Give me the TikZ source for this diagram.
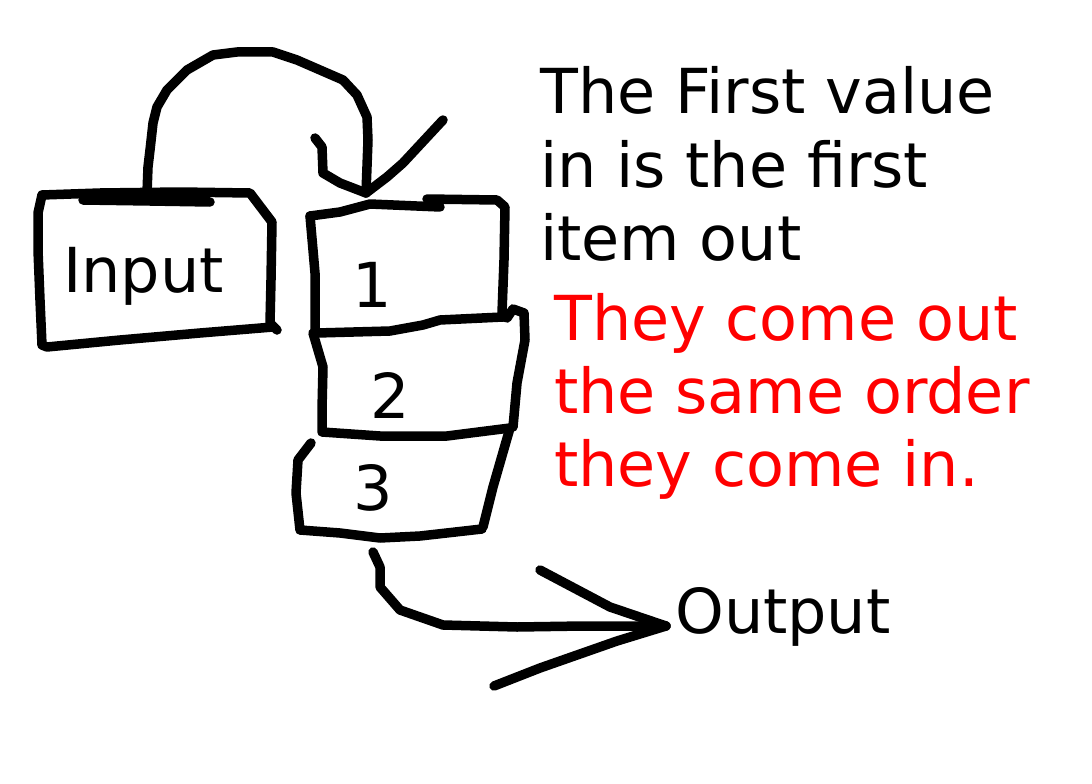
\documentclass[tikz,border=0pt]{standalone}
\usepackage{fontspec}
\setmainfont{DejaVu Sans}
\begin{document}
\begin{tikzpicture}[x=1pt,y=-1pt,
  pen/.style={line width=9.5pt,line cap=round,line join=round,black},
  txt/.style={anchor=base west,inner sep=0pt,font=\fontsize{62}{73}\selectfont},
  redtxt/.style={txt,text=red}]
\useasboundingbox[fill=white] (0,0) rectangle (1092,784);
% Input box
\draw[pen] (42,195) -- (100,193) -- (180,192) -- (250,193) -- (272,222) -- (271,280) -- (270,323) -- (277,330);
\draw[pen] (273,327) -- (200,333) -- (120,340) -- (47,347) -- (42,345) -- (40,300) -- (38,250) -- (38,213) -- (42,195);
\draw[pen] (83,200) -- (150,201) -- (210,202);
\node[txt] (input) at (63,292) {Input};
% curved arrow from Input to box 1
\coordinate (inTop) at (147,193);
\coordinate (tip) at (366,193);
\draw[pen] (inTop) -- (148,167) -- (150,150) -- (153,123) -- (157,107) -- (167,90) -- (187,70) -- (213,55) -- (237,52) -- (273,52) -- (297,60) -- (343,80) -- (357,95) -- (367,117) -- (368,140) -- (tip);
\draw[pen] (315,138) -- (322,147) -- (323,173) -- (340,183) -- (tip);
\draw[pen] (443,120) -- (403,163) -- (387,177) -- (tip);
% box 1
\draw[pen] (310,216) -- (340,212) -- (370,204) -- (440,207);
\draw[pen] (427,199) -- (497,200) -- (505,207) -- (504,260) -- (502,313) -- (503,317);
\draw[pen] (503,317) -- (440,320) -- (423,325) -- (390,331) -- (317,333);
\draw[pen] (310,216) -- (313,250) -- (315,273) -- (315,333);
\node[txt] (one) at (352,307) {1};
% box 2
\draw[pen] (507,318) -- (513,309) -- (524,313) -- (525,340) -- (517,383) -- (513,427);
\draw[pen] (313,333) -- (323,367) -- (322,410) -- (322,432) -- (380,436) -- (447,436) -- (510,428);
\node[txt] (two) at (370,418) {2};
% box 3
\draw[pen] (510,428) -- (493,487) -- (483,527);
\draw[pen] (482,529) -- (420,536) -- (380,538) -- (340,533) -- (300,530) -- (296,493) -- (298,460) -- (311,443);
\node[txt] (three) at (353,510) {3};
% output arrow
\coordinate (otip) at (666,626);
\draw[pen] (373,552) -- (380,567) -- (380,587) -- (400,610) -- (443,625) -- (517,627) -- (583,626) -- (otip);
\draw[pen] (540,570) -- (610,607) -- (otip);
\draw[pen] (494,686) -- (540,668) -- (617,641) -- (otip);
\node[txt] (output) at (675,633) {Output};
% texts
\node[txt] (l1) at (540,113) {The First value};
\node[txt] (l2) at (540,187) {in is the first};
\node[txt] (l3) at (540,260) {item out};
\node[redtxt] (r1) at (554,340) {They come out};
\node[redtxt] (r2) at (554,413) {the same order};
\node[redtxt] (r3) at (554,486) {they come in.};
\end{tikzpicture}
\end{document}
